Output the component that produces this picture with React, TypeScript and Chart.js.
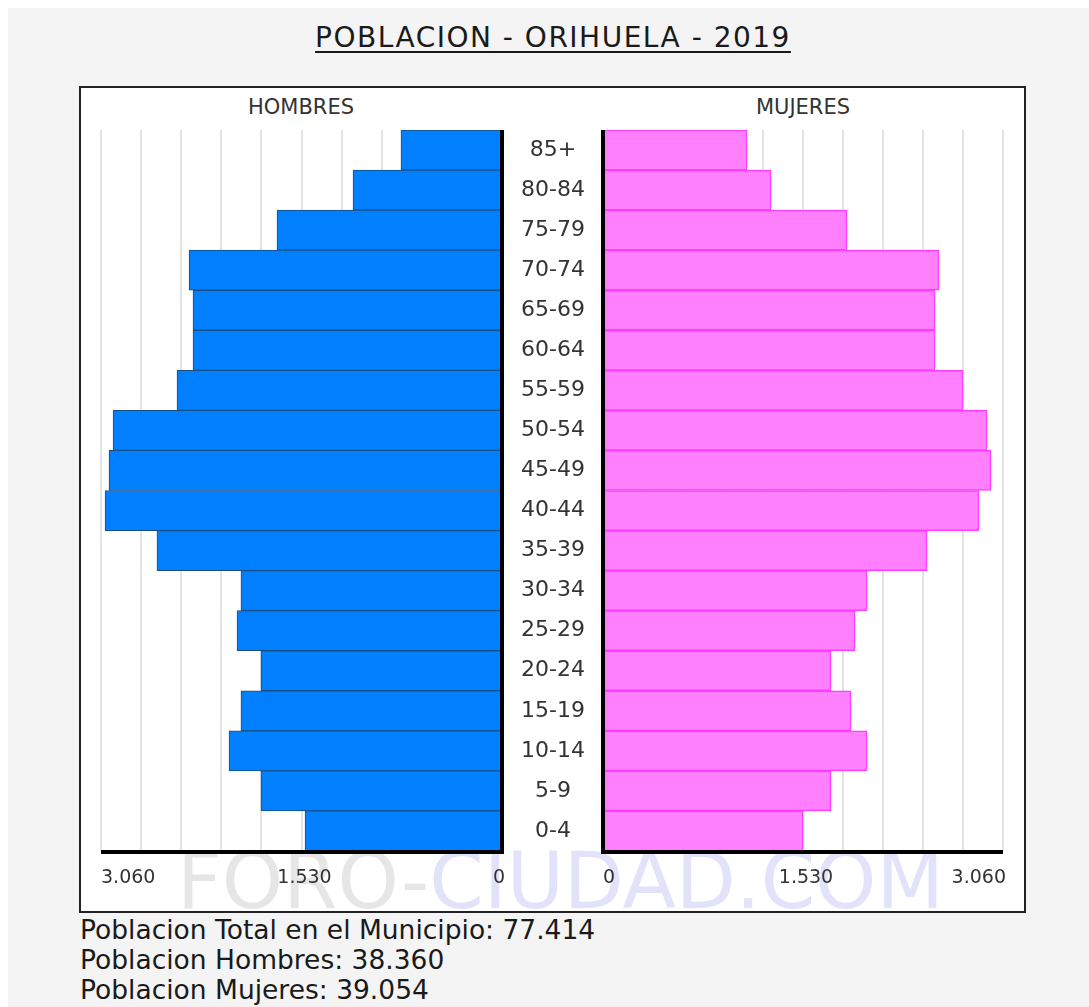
import React, { useEffect, useRef } from "react";
import { Chart, registerables } from "chart.js";

Chart.register(...registerables);

// ---------------- data ----------------
const ageGroups = [
  "85+", "80-84", "75-79", "70-74", "65-69", "60-64", "55-59", "50-54", "45-49",
  "40-44", "35-39", "30-34", "25-29", "20-24", "15-19", "10-14", "5-9", "0-4",
];
const hombres = [
  771, 1137, 1717, 2388, 2358, 2358, 2480, 2968, 2999,
  3029, 2633, 1992, 2022, 1839, 1992, 2083, 1839, 1503,
];
const mujeres = [
  1102, 1285, 1867, 2570, 2540, 2540, 2754, 2938, 2968,
  2876, 2479, 2020, 1928, 1744, 1897, 2020, 1744, 1530,
];
const axisMax = 3060;
const gridStep = 306;
const axisTickValues = [0, 1530, 3060];
const chartTitle = "POBLACION - ORIHUELA - 2019";
const leftTitle = "HOMBRES";
const rightTitle = "MUJERES";
const totalPoblacion = 77414;
const totalHombres = 38360;
const totalMujeres = 39054;

const FONT = '"DejaVu Sans", Verdana, sans-serif';

function fmt(n: number): string {
  return String(n).replace(/\B(?=(\d{3})+(?!\d))/g, ".");
}

const pyramidDecor = {
  id: "pyramidDecor",
  afterDatasetsDraw(chart: any) {
    const { ctx, chartArea: a } = chart;
    const x = chart.scales.x;
    const zx = x.getPixelForValue(0);
    ctx.save();
    ctx.strokeStyle = "#000";
    ctx.lineWidth = 4;
    ctx.beginPath();
    ctx.moveTo(zx, a.top);
    ctx.lineTo(zx, a.bottom + 3);
    ctx.stroke();
    ctx.beginPath();
    ctx.moveTo(a.left, a.bottom + 1);
    ctx.lineTo(a.right, a.bottom + 1);
    ctx.stroke();

    ctx.font = `19px ${FONT}`;
    ctx.fillStyle = "#333";
    ctx.textBaseline = "middle";
    ctx.textAlign = "left";
    for (const v of axisTickValues) {
      const px = x.getPixelForValue(v);
      const t = fmt(v);
      const w = ctx.measureText(t).width;
      let left = px - w / 2 + 3;
      left = Math.max(a.left, Math.min(left, a.right + 3 - w));
      ctx.fillText(t, left, a.bottom + 27);
    }
    ctx.restore();
  },
};

function makeChart(
  canvas: HTMLCanvasElement,
  values: number[],
  bg: string,
  border: string,
  bw: number,
  side: "left" | "right"
) {
  const isLeft = side === "left";
  return new Chart(canvas, {
    type: "bar",
    data: {
      labels: ageGroups,
      datasets: [
        {
          data: values,
          backgroundColor: bg,
          borderColor: border,
          borderWidth: bw,
          borderSkipped: false,
          barPercentage: 1,
          categoryPercentage: 1,
        },
      ],
    },
    options: {
      indexAxis: "y",
      responsive: false,
      animation: false,
      layout: {
        padding: isLeft
          ? { left: 11, right: 18, top: 10, bottom: 49 }
          : { left: 8, right: 22, top: 10, bottom: 49 },
      },
      plugins: {
        legend: { display: false },
        tooltip: { enabled: false },
        title: { display: false },
      },
      scales: {
        x: {
          type: "linear",
          min: 0,
          max: axisMax,
          reverse: isLeft,
          ticks: { display: false, stepSize: gridStep, maxTicksLimit: 20 },
          grid: { color: "#e3e3e3", lineWidth: 2, drawTicks: false },
          border: { display: false },
        },
        y: isLeft
          ? { display: false }
          : {
              position: "left",
              grid: { display: false, drawTicks: false },
              border: { display: false },
              ticks: {
                display: true,
                crossAlign: "center",
                padding: 18,
                color: "#333",
                font: { family: FONT, size: 22 },
              },
              afterFit: (s: any) => {
                s.width = 100;
                s.paddingTop = 0;
                s.paddingBottom = 0;
              },
            },
      },
    } as any,
    plugins: [pyramidDecor],
  });
}

export default function App() {
  const leftRef = useRef<HTMLCanvasElement>(null);
  const rightRef = useRef<HTMLCanvasElement>(null);

  useEffect(() => {
    const l = makeChart(leftRef.current!, hombres, "#0080ff", "#174e85", 1, "left");
    const r = makeChart(rightRef.current!, mujeres, "#ff80ff", "#ff3cff", 1.5, "right");
    return () => {
      l.destroy();
      r.destroy();
    };
  }, []);

  const abs: React.CSSProperties = { position: "absolute", whiteSpace: "nowrap" };

  return (
    <div style={{ position: "fixed", left: 0, top: 0, right: 0, bottom: 0, background: "#fff", overflow: "hidden", fontFamily: FONT }}>
      <div style={{ position: "absolute", left: 8, top: 8, right: 0, bottom: 0, background: "#f4f4f4" }} />
      <div
        style={{
          ...abs,
          left: 553,
          top: 24,
          transform: "translateX(-50%)",
          fontSize: 28,
          lineHeight: "28px",
          letterSpacing: "1.5px",
          color: "#1a1a1a",
          textDecoration: "underline",
          textDecorationThickness: "2px",
          textUnderlineOffset: "4px",
        }}
      >
        {chartTitle}
      </div>
      <div
        style={{
          position: "absolute",
          left: 79,
          top: 86,
          width: 947,
          height: 827,
          boxSizing: "border-box",
          border: "2px solid #222",
          background: "#fff",
        }}
      />
      <div style={{ ...abs, left: 177, top: 842, fontSize: 78, lineHeight: "78px" }}>
        <span style={{ color: "#e6e6e6" }}>FORO-</span>
        <span style={{ color: "#e2e2fb" }}>CIUDAD.COM</span>
      </div>
      <div style={{ ...abs, left: 301, top: 97, transform: "translateX(-50%)", fontSize: 21, lineHeight: "21px", color: "#333" }}>
        {leftTitle}
      </div>
      <div style={{ ...abs, left: 803, top: 97, transform: "translateX(-50%)", fontSize: 21, lineHeight: "21px", color: "#333" }}>
        {rightTitle}
      </div>
      <canvas ref={leftRef} width={430} height={780} style={{ position: "absolute", left: 90, top: 120 }} />
      <canvas ref={rightRef} width={530} height={780} style={{ position: "absolute", left: 495, top: 120 }} />
      <div style={{ ...abs, left: 80, top: 915, fontSize: 26.5, lineHeight: "30px", color: "#1a1a1a" }}>
        <div>Poblacion Total en el Municipio: {fmt(totalPoblacion)}</div>
        <div>Poblacion Hombres: {fmt(totalHombres)}</div>
        <div>Poblacion Mujeres: {fmt(totalMujeres)}</div>
      </div>
    </div>
  );
}
